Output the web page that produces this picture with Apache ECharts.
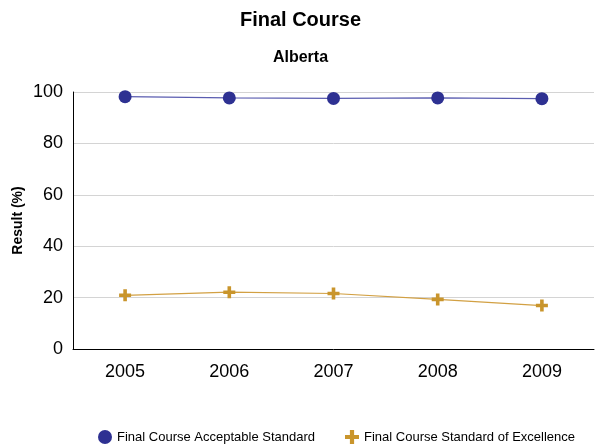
<!DOCTYPE html>
<html>
<head>
<meta charset="utf-8">
<script src="https://cdn.jsdelivr.net/npm/echarts@6/dist/echarts.min.js"></script>
<style>
  html, body { margin: 0; padding: 0; background: #fff; }
  #chart { width: 601px; height: 444px; }
</style>
</head>
<body>
<div id="chart"></div>
<script>
// data
var years = ['2005', '2006', '2007', '2008', '2009'];
var acceptable = [98.2, 97.7, 97.5, 97.7, 97.4];
var excellence = [20.9, 22.1, 21.6, 19.3, 16.9];
var yTicks = { min: 0, max: 100, interval: 20 };

var font = '"Liberation Sans", Arial, Helvetica, sans-serif';
var plus = 'path://M3.5,0H6.5V3.5H10V6.5H6.5V10H3.5V6.5H0V3.5H3.5Z';

var chart = echarts.init(document.getElementById('chart'));
chart.setOption({
  animation: false,
  textStyle: { fontFamily: font },
  title: [
    {
      text: 'Final Course',
      left: 'center',
      top: 5,
      textStyle: { fontFamily: font, fontSize: 20, fontWeight: 'bold', color: '#000' }
    },
    {
      text: 'Alberta',
      left: 'center',
      top: 45,
      textStyle: { fontFamily: font, fontSize: 16, fontWeight: 'bold', color: '#000' }
    }
  ],
  legend: {
    left: 93,
    top: 425,
    itemGap: 30,
    itemWidth: 14,
    itemHeight: 14,
    textStyle: { fontFamily: font, fontSize: 13, color: '#000' },
    data: [
      { name: 'Final Course Acceptable Standard', icon: 'circle' },
      { name: 'Final Course Standard of Excellence', icon: plus }
    ]
  },
  grid: { left: 73, right: 7, top: 92, bottom: 95, containLabel: false },
  xAxis: {
    type: 'category',
    data: years,
    boundaryGap: true,
    axisTick: { show: false },
    axisLine: { lineStyle: { color: '#000', width: 1 } },
    axisLabel: { fontFamily: font, fontSize: 18, color: '#000', margin: 14 }
  },
  yAxis: {
    type: 'value',
    min: yTicks.min,
    max: yTicks.max,
    interval: yTicks.interval,
    name: 'Result (%)',
    nameLocation: 'middle',
    nameGap: 48,
    nameMoveOverlap: false,
    nameTextStyle: { fontFamily: font, fontSize: 14, fontWeight: 'bold', color: '#000' },
    axisLine: { show: true, lineStyle: { color: '#000', width: 1 } },
    axisTick: { show: false },
    axisLabel: { fontFamily: font, fontSize: 18, color: '#000', margin: 10 },
    splitLine: { lineStyle: { color: '#d4d4d4', width: 1 } }
  },
  series: [
    {
      name: 'Final Course Acceptable Standard',
      type: 'line',
      data: acceptable,
      symbol: 'circle',
      symbolSize: 13,
      itemStyle: { color: '#2e3192' },
      lineStyle: { color: '#5a5cb0', width: 1.2 }
    },
    {
      name: 'Final Course Standard of Excellence',
      type: 'line',
      data: excellence,
      symbol: plus,
      symbolSize: 12,
      itemStyle: { color: '#c9952c' },
      lineStyle: { color: '#d2a043', width: 1.2 }
    }
  ]
});
</script>
</body>
</html>
